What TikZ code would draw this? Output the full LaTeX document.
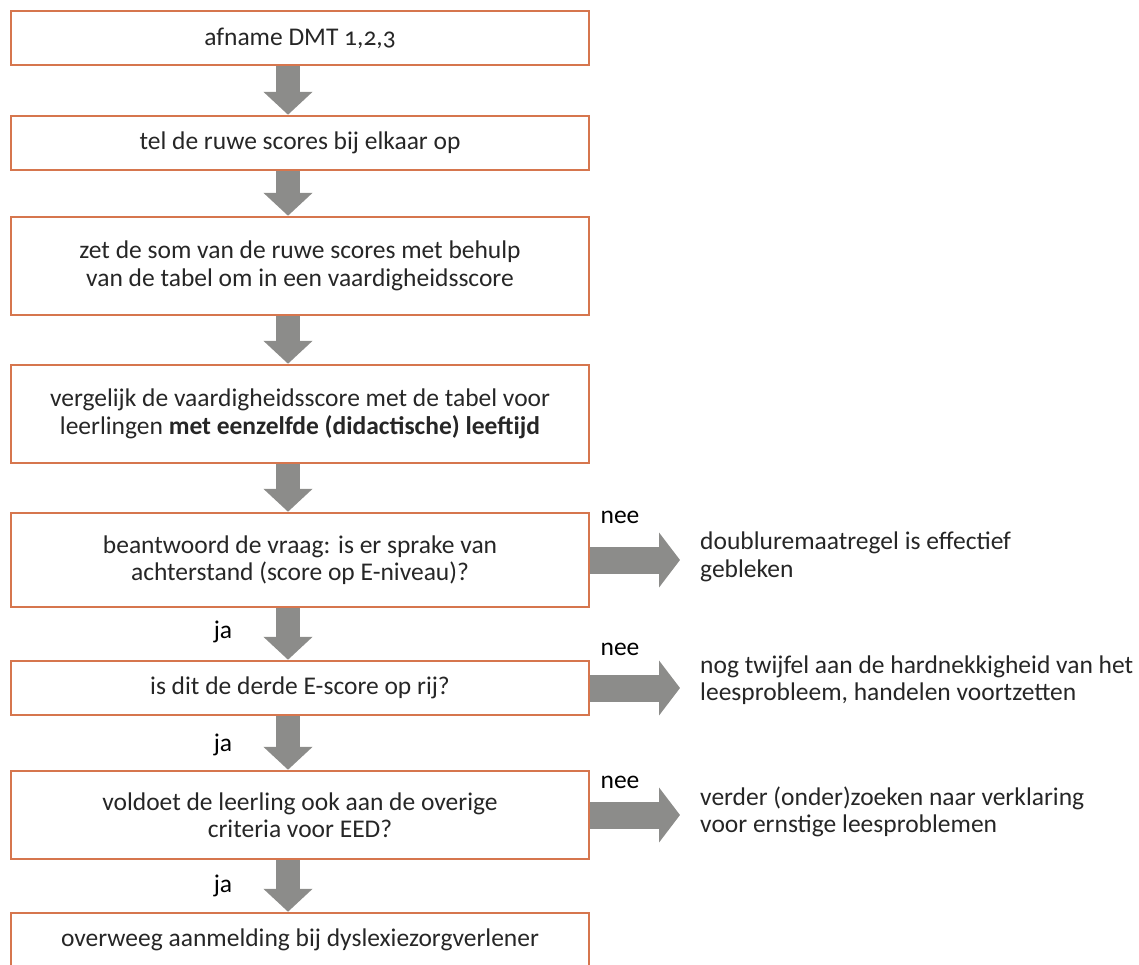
\documentclass[tikz,border=0pt]{standalone}
\usepackage{fontspec}
\setmainfont{Carlito}[Numbers=OldStyle]
\usetikzlibrary{arrows.meta}
\definecolor{boxorange}{RGB}{214,118,78}
\definecolor{arrowgray}{RGB}{140,140,138}
\definecolor{textgray}{RGB}{38,38,38}
\begin{document}
\begin{tikzpicture}[x=1pt,y=-1pt,
  stepbox/.style={draw=boxorange, line width=2.5pt, minimum width=578pt, inner sep=0pt,
    align=center, text=textgray, font=\fontsize{25.5}{27.5}\selectfont},
  sidetext/.style={anchor=west, align=left, inner sep=0pt, text=textgray,
    font=\fontsize{25.5}{27.5}\selectfont},
  answer/.style={inner sep=0pt, font=\fontsize{25.5}{27.5}\selectfont},
  fatdown/.style={draw=arrowgray, line width=24pt, -{Triangle[width=48pt,length=23pt]}},
  fatright/.style={draw=arrowgray, line width=27pt, -{Triangle[width=54pt,length=21pt]}}]
  \useasboundingbox (0,0) rectangle (1139,964);
  % main column
  \node [stepbox, minimum height=54pt] (b1) at (300,38) {afname DMT 1,2,3};
  \node [stepbox, minimum height=54pt] (b2) at (300,143) {tel de ruwe scores bij elkaar op};
  \node [stepbox, minimum height=98pt] (b3) at (300,266) {zet de som van de ruwe scores met behulp\\van de tabel om in een vaardigheidsscore};
  \node [stepbox, minimum height=98pt] (b4) at (300,414) {vergelijk de vaardigheidsscore met de tabel voor\\leerlingen \textbf{met eenzelfde (didactische) leeftijd}};
  \node [stepbox, minimum height=94pt] (b5) at (300,560) {beantwoord de vraag: is er sprake van\\achterstand (score op E-niveau)?};
  \node [stepbox, minimum height=54pt] (b6) at (300,688) {is dit de derde E-score op rij?};
  \node [stepbox, minimum height=88pt] (b7) at (300,815) {voldoet de leerling ook aan de overige\\criteria voor EED?};
  \node [stepbox, minimum height=54pt] (b8) at (300,940) {overweeg aanmelding bij dyslexiezorgverlener};
  % side column
  \node [sidetext] (r1) at (700,557) {doubluremaatregel is effectief\\gebleken};
  \node [sidetext] (r2) at (700,680) {nog twijfel aan de hardnekkigheid van het\\leesprobleem, handelen voortzetten};
  \node [sidetext] (r3) at (700,812) {verder (onder)zoeken naar verklaring\\voor ernstige leesproblemen};
  \coordinate (t1) at (680,560);
  \coordinate (t2) at (680,688);
  \coordinate (t3) at (680,815);
  % down arrows
  \draw [fatdown] ([xshift=-12pt]b1.south) -- ([xshift=-12pt]b2.north);
  \draw [fatdown] ([xshift=-12pt]b2.south) -- ([xshift=-12pt]b3.north);
  \draw [fatdown] ([xshift=-12pt]b3.south) -- ([xshift=-12pt]b4.north);
  \draw [fatdown] ([xshift=-12pt]b4.south) -- ([xshift=-12pt]b5.north);
  \draw [fatdown] ([xshift=-12pt]b5.south) -- ([xshift=-12pt]b6.north);
  \draw [fatdown] ([xshift=-12pt]b6.south) -- ([xshift=-12pt]b7.north);
  \draw [fatdown] ([xshift=-12pt]b7.south) -- ([xshift=-12pt]b8.north);
  % right arrows
  \draw [fatright] (b5.east) -- (t1);
  \draw [fatright] (b6.east) -- (t2);
  \draw [fatright] (b7.east) -- (t3);
  % labels
  \node [answer] (n1) at (620,517) {nee};
  \node [answer] (n2) at (620,649) {nee};
  \node [answer] (n3) at (620,782) {nee};
  \node [answer] (j1) at (223,632) {ja};
  \node [answer] (j2) at (223,745) {ja};
  \node [answer] (j3) at (223,886) {ja};
\end{tikzpicture}
\end{document}
